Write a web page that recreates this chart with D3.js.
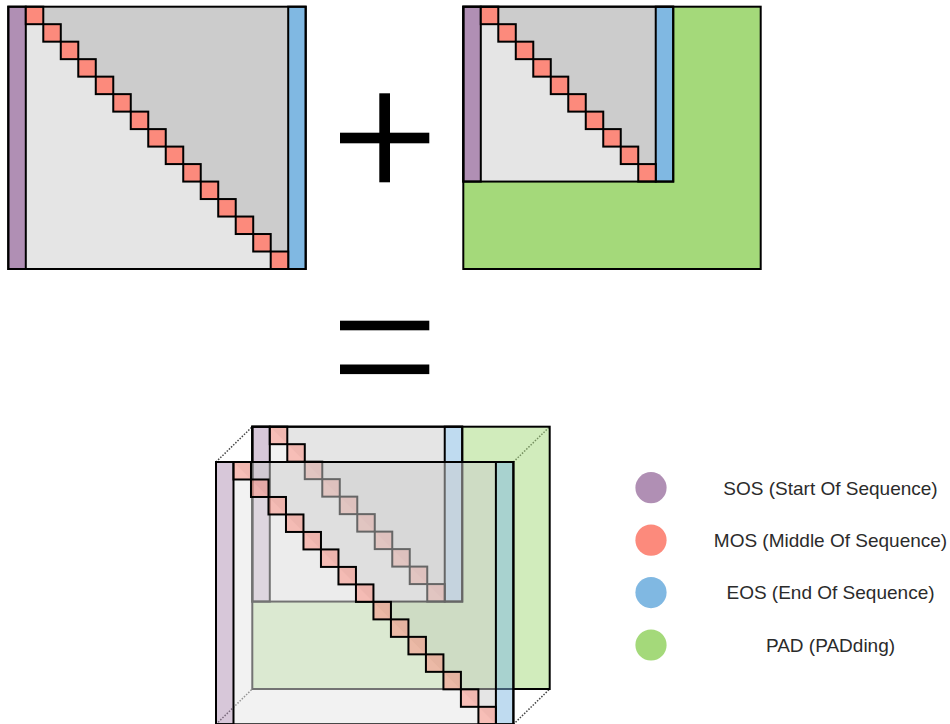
<!DOCTYPE html>
<html>
<head>
<meta charset="utf-8">
<script src="https://cdn.jsdelivr.net/npm/d3@7"></script>
<style>
  body { margin: 0; background: #fff; }
  svg { display: block; }
</style>
</head>
<body>
<svg id="chart" width="950" height="724"></svg>
<script>
// token kinds + colours (legend order)
var tokenKinds = ["SOS", "MOS", "EOS", "PAD"];
var tokenColors = ["#b08fb4", "#fc8a7c", "#80b8e2", "#a4d97a"];
var legendLabels = ["SOS (Start Of Sequence)", "MOS (Middle Of Sequence)", "EOS (End Of Sequence)", "PAD (PADding)"];

// sequence lengths (number of MOS tokens) and the padded length
var maxTokens = 15;
var seqLengths = [15, 10];
var upperGray = "#cccccc", lowerGray = "#e5e5e5";

var svg = d3.select("#chart"),
  width = +svg.attr("width"),
  height = +svg.attr("height");

var color = d3.scaleOrdinal().domain(tokenKinds).range(tokenColors);

var cols = maxTokens + 2, rows = maxTokens;
var matW = 297.4, matH = 262.3;
var x = d3.scaleLinear().domain([0, cols]).range([0, matW]);
var y = d3.scaleLinear().domain([0, rows]).range([0, matH]);

function pts(arr) {
  return arr.map(p => x(p[0]) + "," + y(p[1])).join(" ");
}

// one attention-mask matrix, n = number of MOS tokens
function drawMatrix(g, n, fillOp) {
  var sw = 2;
  if (n < maxTokens) {
    // padding L shape
    g.append("polygon")
      .attr("points", pts([[0, 0], [cols, 0], [cols, rows], [0, rows], [0, n], [n + 2, n], [n + 2, 0]]))
      .attr("fill", color("PAD")).attr("fill-opacity", fillOp);
  }
  // lower part (visible)
  g.append("polygon")
    .attr("points", pts([[1, 0], [1, n], [n + 1, n]]))
    .attr("fill", lowerGray).attr("fill-opacity", fillOp);
  // upper part (masked)
  g.append("polygon")
    .attr("points", pts([[1, 0], [n + 1, 0], [n + 1, n]]))
    .attr("fill", upperGray).attr("fill-opacity", fillOp);

  g.append("rect")
    .attr("x", x(0)).attr("y", y(0))
    .attr("width", x(1) - x(0)).attr("height", y(n) - y(0))
    .attr("fill", color("SOS")).attr("fill-opacity", fillOp)
    .attr("stroke", "#000").attr("stroke-width", sw);

  g.append("rect")
    .attr("x", x(n + 1)).attr("y", y(0))
    .attr("width", x(1) - x(0)).attr("height", y(n) - y(0))
    .attr("fill", color("EOS")).attr("fill-opacity", fillOp)
    .attr("stroke", "#000").attr("stroke-width", sw);

  g.selectAll("rect.mos")
    .data(d3.range(n))
    .enter().append("rect")
    .attr("class", "mos")
    .attr("x", i => x(i + 1)).attr("y", i => y(i))
    .attr("width", x(1) - x(0)).attr("height", y(1) - y(0))
    .attr("fill", color("MOS")).attr("fill-opacity", fillOp)
    .attr("stroke", "#000").attr("stroke-width", sw);

  if (n < maxTokens) {
    g.append("rect")
      .attr("x", x(0)).attr("y", y(0))
      .attr("width", x(n + 2)).attr("height", y(n))
      .attr("fill", "none").attr("stroke", "#000").attr("stroke-width", sw);
  }
  g.append("rect")
    .attr("x", x(0)).attr("y", y(0))
    .attr("width", x(cols)).attr("height", y(rows))
    .attr("fill", "none").attr("stroke", "#000").attr("stroke-width", sw);
}

// top row: full sequence + padded sequence
drawMatrix(svg.append("g").attr("transform", "translate(8.3,6.7)"), seqLengths[0], 1);
drawMatrix(svg.append("g").attr("transform", "translate(463.3,6.7)"), seqLengths[1], 1);

// plus sign
var ops = svg.append("g").attr("fill", "#000");
ops.append("rect").attr("x", 379.3).attr("y", 93.3).attr("width", 10.7).attr("height", 89);
ops.append("rect").attr("x", 340).attr("y", 132.7).attr("width", 89.3).attr("height", 10.6);
// equals sign
ops.append("rect").attr("x", 340).attr("y", 320.7).attr("width", 89.3).attr("height", 9.6);
ops.append("rect").attr("x", 340).attr("y", 364.5).attr("width", 89.3).attr("height", 9.6);

// bottom: stacked result
var front = [216, 462], back = [252.3, 426.7];
var corners = [[0, 0], [cols, 0], [0, rows], [cols, rows]];
svg.append("g").selectAll("line")
  .data(corners)
  .enter().append("line")
  .attr("x1", d => front[0] + x(d[0])).attr("y1", d => front[1] + y(d[1]))
  .attr("x2", d => back[0] + x(d[0])).attr("y2", d => back[1] + y(d[1]))
  .attr("stroke", "#444").attr("stroke-width", 1.5).attr("stroke-dasharray", "1.5,1.5");

drawMatrix(svg.append("g").attr("transform", "translate(" + back[0] + "," + back[1] + ")"), seqLengths[1], 0.5);
drawMatrix(svg.append("g").attr("transform", "translate(" + front[0] + "," + front[1] + ")"), seqLengths[0], 0.5);

// legend
var ly = d3.scalePoint().domain(tokenKinds).range([487.7, 645]);
var legend = svg.append("g").selectAll("g")
  .data(tokenKinds)
  .enter().append("g")
  .attr("transform", d => "translate(0," + ly(d) + ")");
legend.append("circle")
  .attr("cx", 651).attr("cy", 0).attr("r", 15.6)
  .attr("fill", d => color(d));
legend.append("text")
  .attr("x", 830.5).attr("y", 6.8)
  .attr("text-anchor", "middle")
  .style("font-family", "'Liberation Sans', Arial, sans-serif")
  .style("font-size", "19px")
  .attr("fill", "#2b2b2b")
  .text((d, i) => legendLabels[i]);
</script>
</body>
</html>
